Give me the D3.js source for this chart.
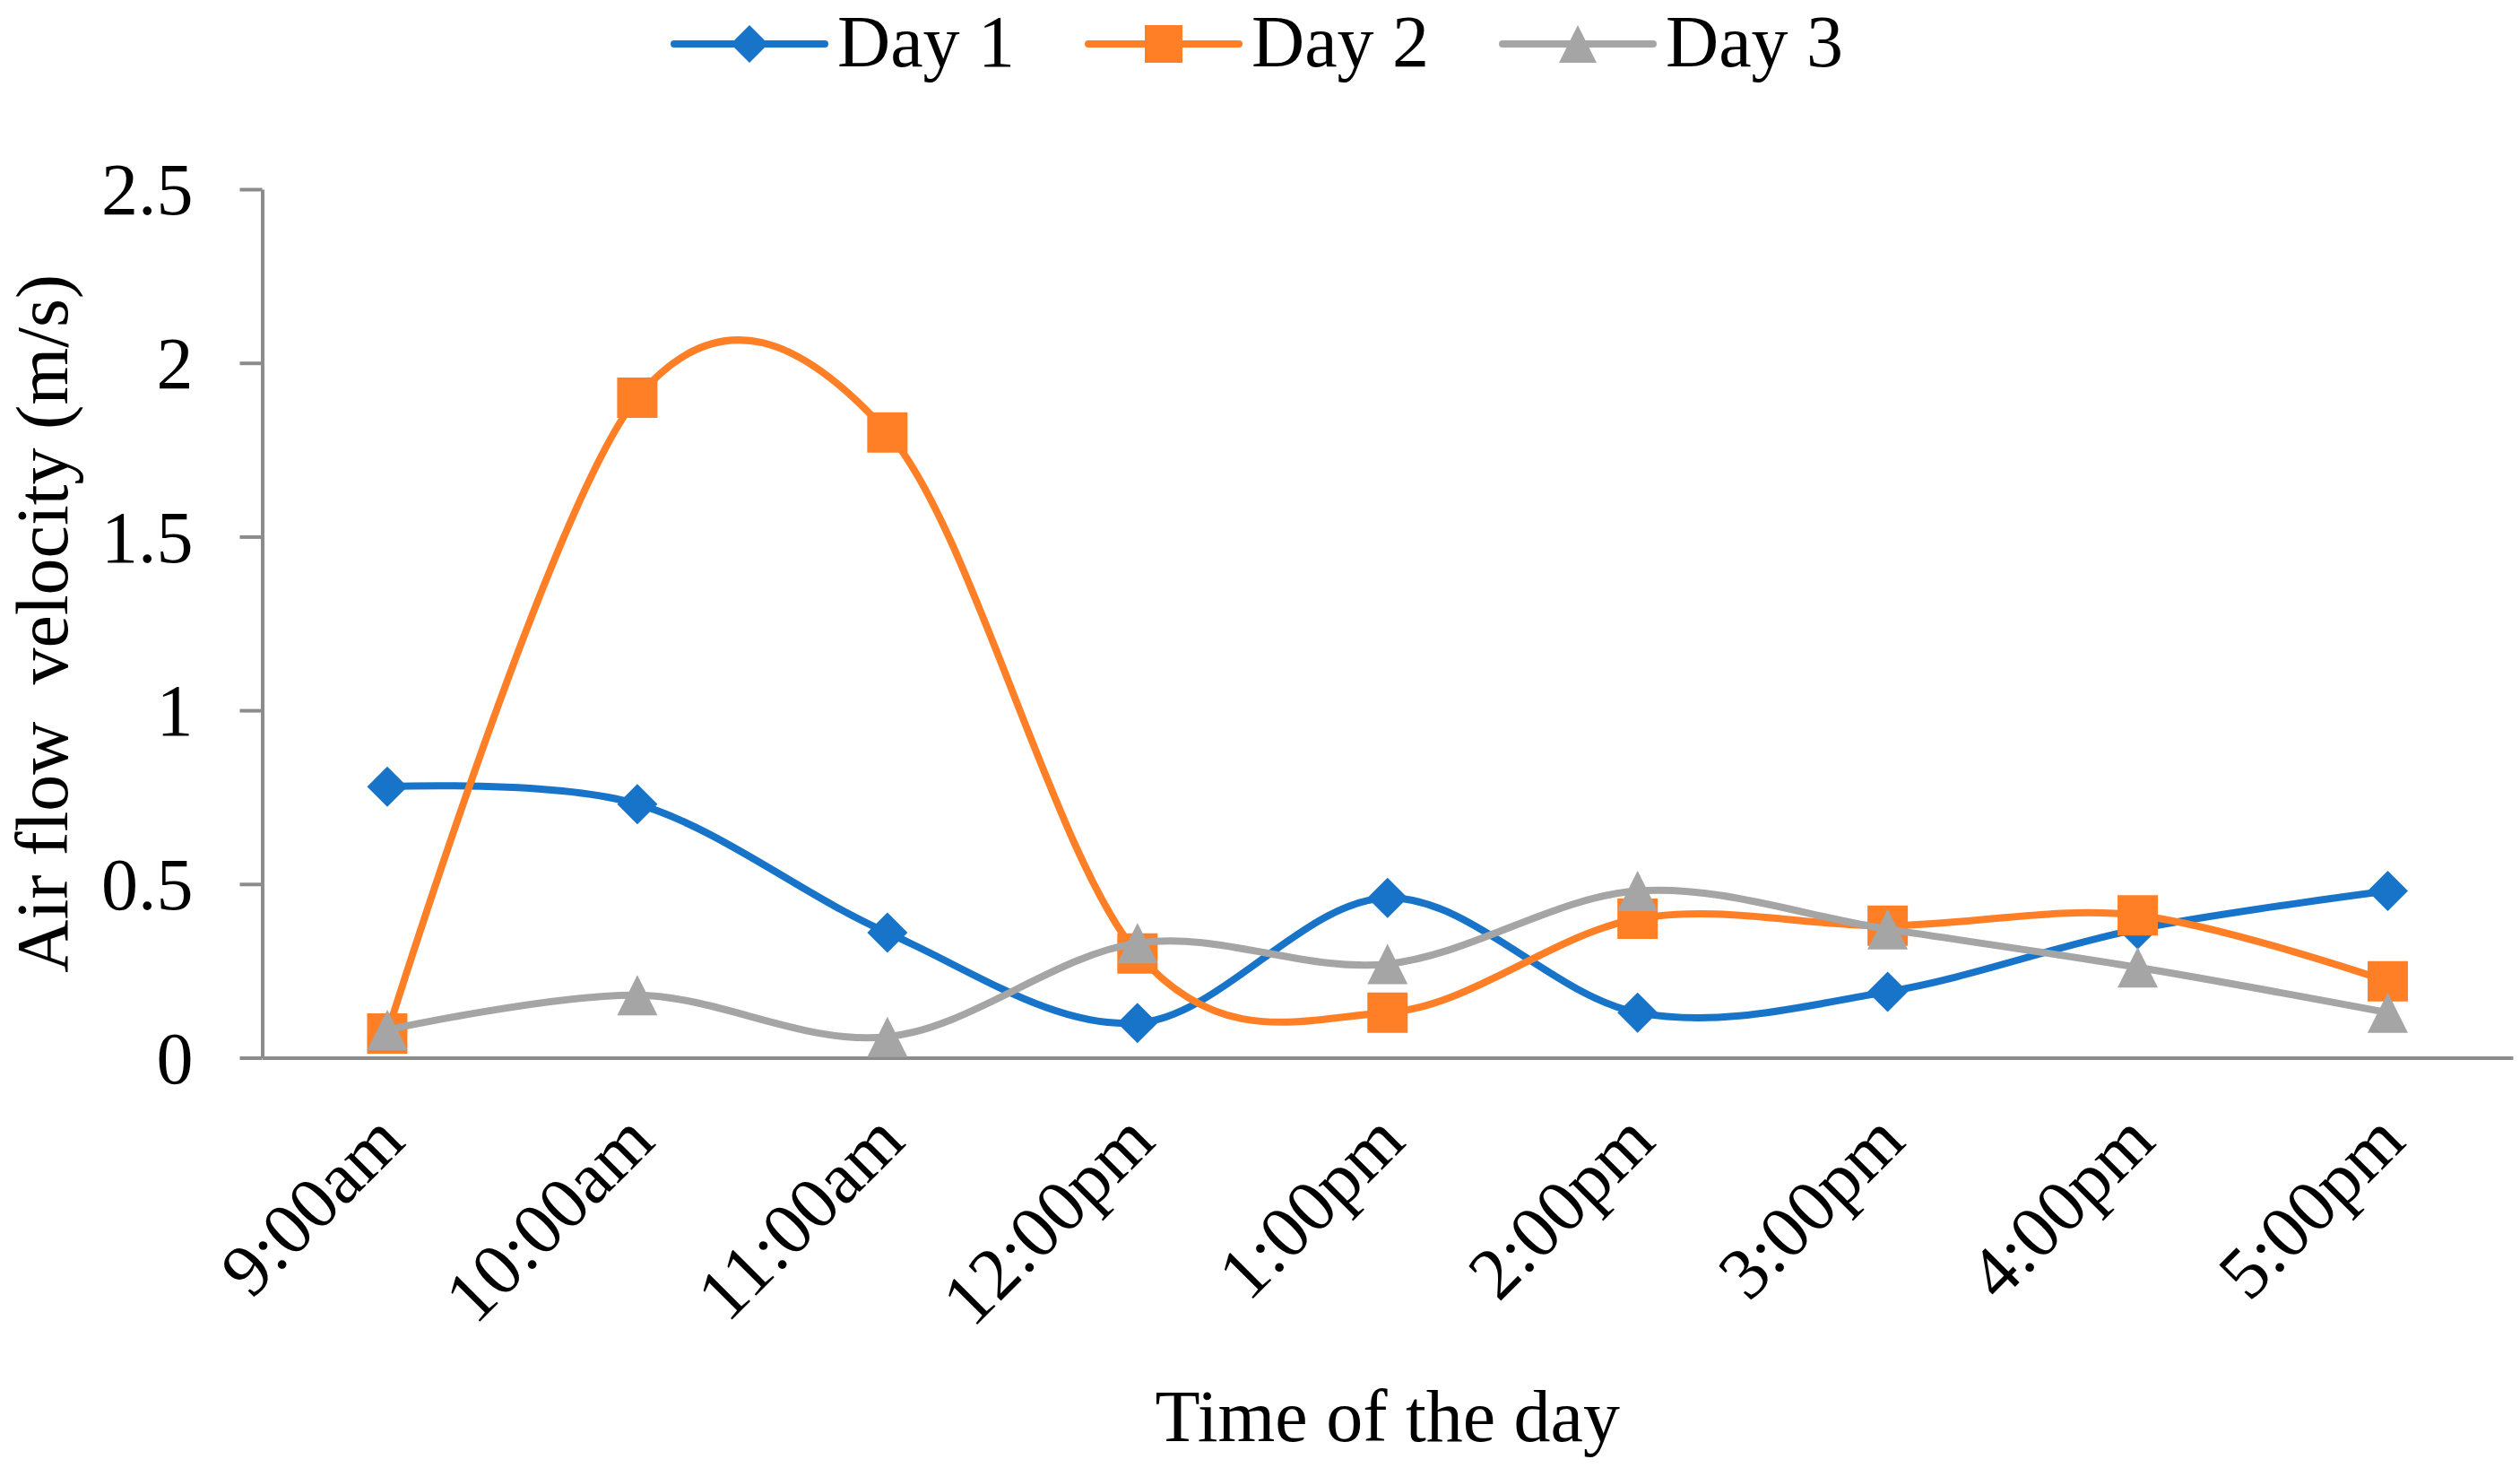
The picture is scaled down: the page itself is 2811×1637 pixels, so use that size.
<!DOCTYPE html>
<html>
<head>
<meta charset="utf-8">
<script src="https://cdn.jsdelivr.net/npm/d3@7"></script>
<style>
  body { margin: 0; background: #fff; }
  text { font-family: "Liberation Serif", "Times New Roman", serif; fill: #000; }
</style>
</head>
<body>
<script>
// categories and readings (m/s)
var times = ["9:00am", "10:00am", "11:00am", "12:00pm", "1:00pm", "2:00pm", "3:00pm", "4:00pm", "5:00pm"];
var day1 = [0.78, 0.73, 0.36, 0.10, 0.46, 0.13, 0.19, 0.37, 0.48];
var day2 = [0.07, 1.90, 1.80, 0.30, 0.13, 0.40, 0.38, 0.41, 0.22];
var day3 = [0.08, 0.18, 0.06, 0.33, 0.27, 0.48, 0.37, 0.26, 0.13];
var seriesNames = ["Day 1", "Day 2", "Day 3"];
var yTicks = [0, 0.5, 1, 1.5, 2, 2.5];

var width = 2811;
var height = 1637;
var fontSize = 82;

var colors = ["#1874C8", "#FF7F27", "#A5A5A5"];
var axisColor = "#8C8C8C";

// marker shapes, 45px across
var diamond = { draw: function (ctx, s) { var r = Math.sqrt(s) / 2; ctx.moveTo(0, -r); ctx.lineTo(r, 0); ctx.lineTo(0, r); ctx.lineTo(-r, 0); ctx.closePath(); } };
var square = { draw: function (ctx, s) { var r = Math.sqrt(s) / 2; ctx.rect(-r, -r, 2 * r, 2 * r); } };
var triangle = { draw: function (ctx, s) { var r = Math.sqrt(s) / 2; ctx.moveTo(0, -r); ctx.lineTo(r, r); ctx.lineTo(-r, r); ctx.closePath(); } };
var shapes = [diamond, square, triangle];
var markerSize = 45 * 45;

var series = [day1, day2, day3].map(function (vals, i) {
  return { name: seriesNames[i], color: colors[i], shape: shapes[i],
           points: vals.map(function (v, j) { return { t: times[j], v: v }; }) };
});

var svg = d3.select("body").append("svg")
  .attr("width", width).attr("height", height);

// plot box (window.top is reserved, so plotTop etc.)
var plotLeft = 292.5, plotRight = 2803, plotTop = 211, plotBottom = 1179.5;

var x = d3.scaleBand().domain(times).range([plotLeft, plotRight]);
var y = d3.scaleLinear().domain([0, 2.5]).range([plotBottom, plotTop]);
var cx = function (t) { return x(t) + x.bandwidth() / 2; };

// y axis
var yAxis = svg.append("g").attr("transform", "translate(" + plotLeft + ",0)")
  .call(d3.axisLeft(y).tickValues(yTicks).tickSize(25).tickSizeOuter(0).tickPadding(52)
    .tickFormat(function (d) { return String(d); }));
yAxis.select(".domain").attr("stroke", axisColor).attr("stroke-width", 4);
yAxis.selectAll(".tick line").attr("stroke", axisColor).attr("stroke-width", 4);
yAxis.selectAll(".tick text").style("font-size", fontSize + "px")
  .attr("font-family", null).attr("dy", "0.34em");

// x axis, no tick marks, slanted labels
var xAxis = svg.append("g").attr("transform", "translate(0," + plotBottom + ")")
  .call(d3.axisBottom(x).tickSize(0).tickSizeOuter(0));
xAxis.select(".domain").attr("stroke", axisColor).attr("stroke-width", 4);
xAxis.selectAll(".tick text")
  .style("font-size", fontSize + "px")
  .attr("font-family", null)
  .attr("y", 0).attr("dy", "0.35em")
  .attr("text-anchor", "end")
  .attr("transform", "translate(2,76) rotate(-45)");

// lines, smoothed like the spreadsheet
var line = d3.line()
  .x(function (d) { return cx(d.t); })
  .y(function (d) { return y(d.v); })
  .curve(d3.curveCardinal.tension(0));

series.forEach(function (s) {
  svg.append("path").datum(s.points)
    .attr("d", line)
    .attr("fill", "none")
    .attr("stroke", s.color)
    .attr("stroke-width", 8)
    .attr("stroke-linejoin", "round");
  svg.append("g").selectAll("path").data(s.points).join("path")
    .attr("d", d3.symbol().type(s.shape).size(markerSize))
    .attr("transform", function (d) { return "translate(" + cx(d.t) + "," + y(d.v) + ")"; })
    .attr("fill", s.color);
});

// axis titles
svg.append("text")
  .attr("transform", "translate(75," + (plotTop + plotBottom) / 2 + ") rotate(-90)")
  .attr("text-anchor", "middle")
  .style("font-size", fontSize + "px")
  .style("white-space", "pre")
  .text("Air flow  velocity (m/s)");

svg.append("text")
  .attr("x", (plotLeft + plotRight) / 2).attr("y", 1607)
  .attr("text-anchor", "middle")
  .style("font-size", fontSize + "px")
  .text("Time of the day");

// legend
var legend = svg.append("g");
var item = legend.selectAll("g").data(series).join("g")
  .attr("transform", function (d, i) { return "translate(" + (752 + i * 462) + ",49)"; });
item.append("line").attr("x1", 0).attr("x2", 168).attr("y1", 0).attr("y2", 0)
  .attr("stroke", function (d) { return d.color; })
  .attr("stroke-width", 8).attr("stroke-linecap", "round");
item.append("path")
  .attr("d", function (d) { return d3.symbol().type(d.shape).size(42 * 42)(); })
  .attr("transform", "translate(84,0)")
  .attr("fill", function (d) { return d.color; });
item.append("text").attr("x", 182).attr("y", 25)
  .style("font-size", fontSize + "px")
  .text(function (d) { return d.name; });
</script>
</body>
</html>
